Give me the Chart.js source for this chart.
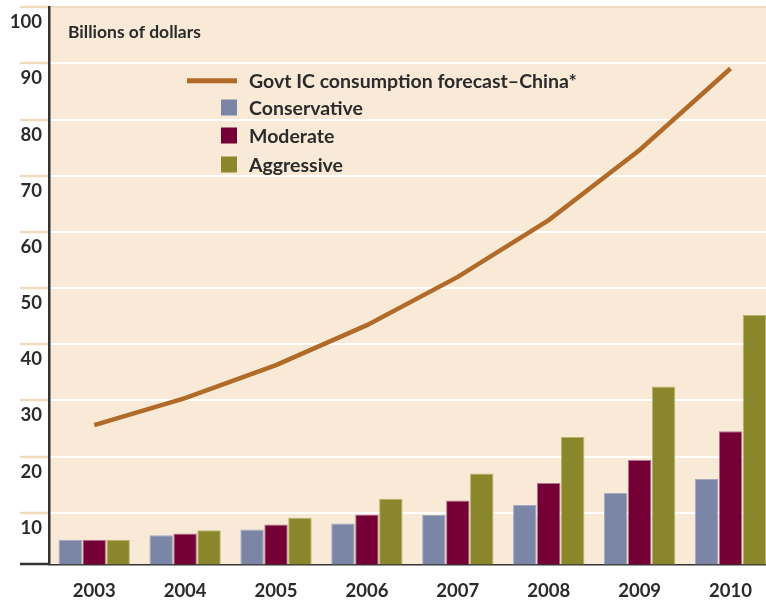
<!DOCTYPE html>
<html>
<head>
<meta charset="utf-8">
<title>China IC consumption</title>
<script src="https://cdn.jsdelivr.net/npm/chart.js@4.4.1/dist/chart.umd.min.js"></script>
<style>
  html, body { margin: 0; padding: 0; background: #ffffff; overflow: hidden; }
  #Chart__Box { position: relative; width: 776px; height: 604px; }
</style>
</head>
<body>
<div id="Chart__Box"><canvas id="IC__Chart"></canvas></div>
<script>
/* years on the x axis */
const years = ["2003", "2004", "2005", "2006", "2007", "2008", "2009", "2010"];
/* govt forecast line, billions of dollars */
const forecastChina = [25.6, 30.4, 36.3, 43.4, 52.0, 62.1, 74.6, 89.1];
/* the three scenarios (bars) */
const conservative = [5.2, 6.0, 7.0, 8.1, 9.6, 11.4, 13.5, 16.0];
const moderate = [5.2, 6.3, 7.9, 9.7, 12.2, 15.3, 19.4, 24.5];
const aggressive = [5.2, 6.9, 9.1, 12.5, 17.0, 23.5, 32.5, 45.2];
/* labelled values on the y axis */
const yTicks = [10, 20, 30, 40, 50, 60, 70, 80, 90, 100];
/* the baseline of the plot sits a little above zero */
const yBase = 0.82;
const yTop = 100;

const FONT = "Lato, 'Noto Sans', sans-serif";
const TEXT_COLOR = "#2b2b2b";
const PLOT_BG = "#f9ead7";
const TAN = "#f3dabd";

/* paints the cream plot background and the unit caption */
const plotBackground = {
  id: "plotBackground",
  beforeDraw(chart) {
    const {ctx, chartArea} = chart;
    ctx.save();
    ctx.fillStyle = PLOT_BG;
    ctx.fillRect(chartArea.left, chartArea.top, chartArea.right - chartArea.left, chartArea.bottom - chartArea.top);
    ctx.restore();
  },
  afterDraw(chart) {
    const ctx = chart.ctx;
    ctx.save();
    ctx.fillStyle = TEXT_COLOR;
    ctx.font = "bold 17.5px " + FONT;
    ctx.textBaseline = "middle";
    ctx.fillText("Billions of dollars", 68, 32);
    ctx.restore();
  }
};

/* legend drawn inside the plot, line first then the bar swatches */
const innerLegend = {
  id: "innerLegend",
  afterDraw(chart) {
    const ctx = chart.ctx;
    const sets = chart.data.datasets;
    const rows = [80.7, 107.5, 135.5, 164.5];
    ctx.save();
    ctx.font = "bold 19.5px " + FONT;
    ctx.textBaseline = "middle";
    sets.forEach((ds, i) => {
      const y = rows[i];
      if (ds.type === "line") {
        ctx.strokeStyle = ds.borderColor;
        ctx.lineWidth = 5;
        ctx.beginPath();
        ctx.moveTo(187, y);
        ctx.lineTo(237, y);
        ctx.stroke();
      } else {
        ctx.fillStyle = ds.backgroundColor;
        ctx.fillRect(221, y - 8, 16, 16);
      }
      ctx.fillStyle = TEXT_COLOR;
      ctx.fillText(ds.label, 249, y + 1);
    });
    ctx.restore();
  }
};

function barSet(label, data, fill, edge) {
  return {
    type: "bar",
    label: label,
    data: data,
    backgroundColor: fill,
    borderColor: edge,
    borderWidth: 1,
    borderSkipped: "bottom",
    categoryPercentage: 0.79,
    barPercentage: 0.98,
    clip: 0,
    order: 1
  };
}

const ctx = document.getElementById("IC__Chart");
const myChart = new Chart(ctx, {
  plugins: [plotBackground, innerLegend],
  data: {
    labels: years,
    datasets: [
      {
        type: "line",
        label: "Govt IC consumption forecast\u2013China*",
        data: forecastChina,
        borderColor: "#b16a27",
        borderWidth: 4.5,
        tension: 0,
        pointRadius: 0,
        borderCapStyle: "butt",
        order: 0
      },
      barSet("Conservative", conservative, "#7b85a6", "#a3aac4"),
      barSet("Moderate", moderate, "#750036", "#b07890"),
      barSet("Aggressive", aggressive, "#8a862c", "#b8b46a")
    ]
  },
  options: {
    responsive: true,
    maintainAspectRatio: false,
    animation: false,
    layout: { padding: { top: 7.3, right: 0, bottom: 0, left: 0 } },
    plugins: {
      legend: { display: false },
      tooltip: { enabled: false }
    },
    scales: {
      x: {
        afterFit(scale) {
          scale.height = 39.7;
        },
        grid: { display: false, drawTicks: false },
        border: { display: true, color: "#333333", width: 1.5 },
        ticks: {
          padding: 16,
          color: TEXT_COLOR,
          font: { family: FONT, size: 18.5, weight: "bold" }
        }
      },
      y: {
        min: yBase,
        max: yTop,
        afterBuildTicks(scale) {
          scale.ticks = [{ value: yBase }].concat(yTicks.map(v => ({ value: v })));
        },
        afterFit(scale) {
          scale.width = 48.75;
          scale.paddingTop = 0;
          scale.paddingBottom = 0;
        },
        grid: {
          lineWidth: 2,
          tickLength: 28.75,
          tickWidth: 2.5,
          color: c => (c.tick && c.tick.value === yBase) ? "rgba(0,0,0,0)" : (c.tick && c.tick.value === yTop ? TAN : "#ffffff"),
          tickColor: c => (c.tick && c.tick.value === yBase) ? "#333333" : TAN
        },
        border: { display: true, color: "#333333", width: 2.5 },
        ticks: {
          padding: -22,
          labelOffset: 15,
          color: TEXT_COLOR,
          font: { family: FONT, size: 18.5, weight: "bold" },
          callback: v => (v === yBase ? "" : String(v))
        }
      }
    }
  }
});
</script>
</body>
</html>
